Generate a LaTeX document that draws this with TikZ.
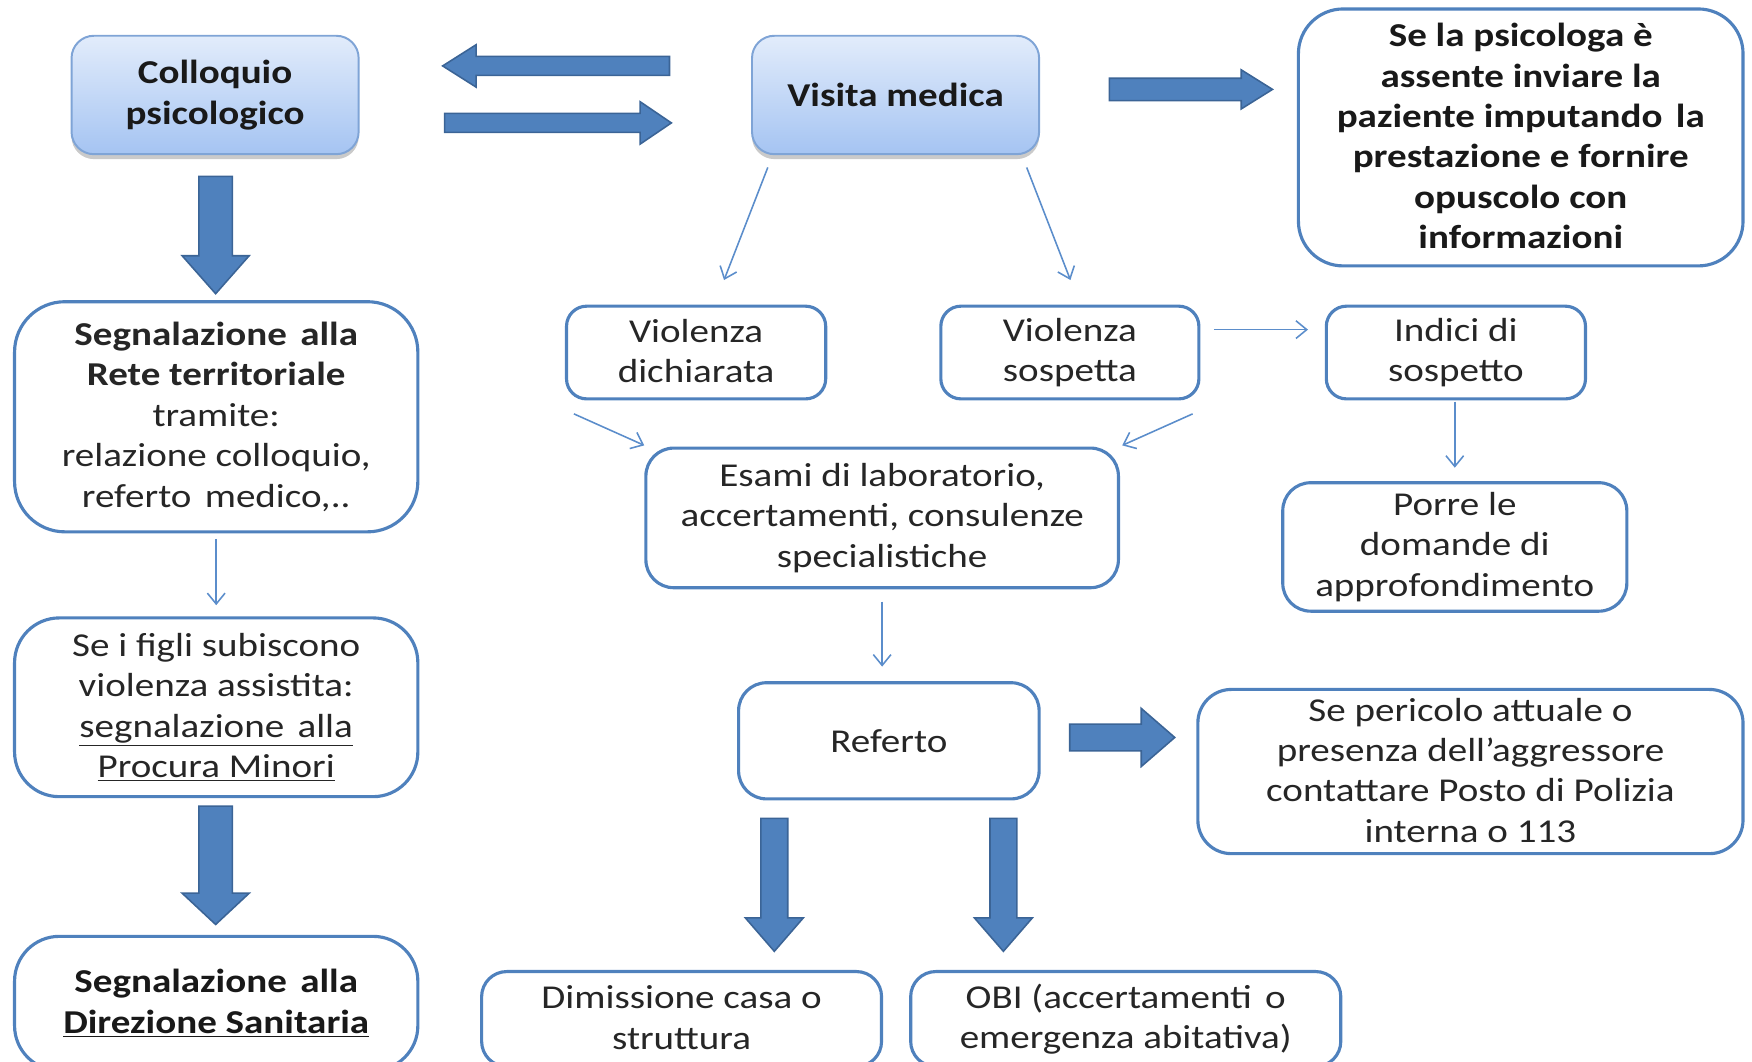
\documentclass[tikz,border=0pt]{standalone}
\usepackage{fontspec}
\setmainfont{Carlito}[FakeStretch=1.17]
\usetikzlibrary{calc,arrows.meta,shadows}
\definecolor{bblue}{HTML}{4F81BD}
\definecolor{bdark}{HTML}{3B6496}
\definecolor{lblue}{HTML}{5B8DCB}
\definecolor{gtop}{HTML}{E2ECFB}
\definecolor{gbot}{HTML}{A5C4F2}
\definecolor{gborder}{HTML}{7FA4D6}
\definecolor{txt}{HTML}{262626}
\newcommand\txtfont{\fontsize{17}{20.6}\selectfont}
\newcommand\mystrut{\rule[-1.4pt]{0pt}{20.6pt}}
\tikzset{
 struts/.style={execute at begin node=\mystrut, execute at end node=\mystrut},
 basebox/.style={draw=bblue, line width=1.6pt, fill=white, align=center, inner sep=0pt, text=txt, font=\txtfont},
 box/.style={basebox, struts},
 bfbox/.style={box, font=\txtfont\bfseries, text=black!90},
 gbase/.style={draw=gborder, line width=1pt, top color=gtop, bottom color=gbot, rounded corners=0.4cm,
   drop shadow={shadow xshift=0pt, shadow yshift=-2.5pt, opacity=0.35, fill=black!60},
   align=center, inner sep=0pt, font=\txtfont\bfseries, text=black!90, minimum width=5.14cm, minimum height=2.12cm},
 gbox/.style={gbase, struts},
 thinarrow/.style={draw=lblue, line width=0.8pt, -{Straight Barb[length=5.5pt,width=9pt]}},
 blockarrow/.style={fill=bblue, draw=bdark, line width=0.8pt, line join=miter},
}
\newcommand\blockarr[6]{%
 \begin{scope}[shift={(#1)}, rotate=#2]
 \draw[blockarrow] (0,-#4) -- ({#3-#6},-#4) -- ({#3-#6},-#5) -- (#3,0) -- ({#3-#6},#5) -- ({#3-#6},#4) -- (0,#4) -- cycle;
 \end{scope}}
\begin{document}
\begin{tikzpicture}[x=0.02cm,y=-0.02cm]
\useasboundingbox (0,0) rectangle (1568,950);
\clip (0,0) rectangle (1568,950);
% gradient boxes
\node[gbox] (coll) at (192.5,85) {Colloquio\\psicologico};
\node[gbase] (vis) at (801.5,85) {Visita medica};
% boxes
\node[bfbox, minimum width=7.96cm, minimum height=4.6cm, rounded corners=0.8cm] (psi) at (1361,123)
 {Se la psicologa è\\assente inviare la\\paziente imputando\hspace{.4em}la\\prestazione e fornire\\opuscolo con\\informazioni};
\node[box, minimum width=7.22cm, minimum height=4.12cm, rounded corners=0.9cm] (rete) at (193.5,373)
 {\textbf{Segnalazione\hspace{.4em}alla}\\\textbf{Rete territoriale}\\tramite:\\relazione colloquio,\\referto\hspace{.4em}medico,..};
\node[box, minimum width=7.22cm, minimum height=3.2cm, rounded corners=0.8cm] (figli) at (193.5,633)
 {Se i figli subiscono\\violenza assistita:\\\underline{segnalazione\hspace{.4em}alla}\\\underline{Procura Minori}};
\node[bfbox, minimum width=7.22cm, minimum height=2.4cm, rounded corners=0.8cm] (dir) at (193.5,898)
 {Segnalazione\hspace{.4em}alla\\\underline{Direzione Sanitaria}};
\node[box, minimum width=4.64cm, minimum height=1.66cm, rounded corners=0.36cm] (vd) at (623,315.5) {Violenza\\dichiarata};
\node[box, minimum width=4.62cm, minimum height=1.66cm, rounded corners=0.36cm] (vs) at (957.5,315.5) {Violenza\\sospetta};
\node[box, minimum width=4.64cm, minimum height=1.66cm, rounded corners=0.36cm] (ind) at (1303,315.5) {Indici di\\sospetto};
\node[box, minimum width=8.46cm, minimum height=2.5cm, rounded corners=0.5cm] (esa) at (789.5,463.5)
 {Esami di laboratorio,\\accertamenti, consulenze\\specialistiche};
\node[box, minimum width=6.16cm, minimum height=2.3cm, rounded corners=0.5cm] (por) at (1302,489.5)
 {Porre le\\domande di\\approfondimento};
\node[basebox, minimum width=5.38cm, minimum height=2.08cm, rounded corners=0.5cm] (ref) at (795.5,663) {Referto};
\node[box, minimum width=9.76cm, minimum height=2.94cm, rounded corners=0.6cm] (per) at (1316,690.5)
 {Se pericolo attuale o\\presenza dell’aggressore\\contattare Posto di Polizia\\interna o 113};
\node[box, minimum width=7.16cm, minimum height=1.7cm, rounded corners=0.45cm] (dim) at (610,912)
 {Dimissione casa o\\struttura};
\node[box, minimum width=7.7cm, minimum height=1.7cm, rounded corners=0.45cm] (obi) at (1007.5,912)
 {OBI (accertamenti\hspace{.4em}o\\emergenza abitativa)};
% thin arrows
\draw[thinarrow] ($(vis.south west)+(15,11)$) -- ($(vd.north)+(25,-22)$);
\draw[thinarrow] ($(vis.south east)+(-12,11)$) -- ($(vs.north)+(0.5,-22)$);
\draw[thinarrow] ($(vs.east)+(12,-20.5)$) -- ($(ind.west)+(-15,-20.5)$);
\draw[thinarrow] ($(vd.south west)+(8,12)$) -- ($(esa.north west)+(0,-1)$);
\draw[thinarrow] ($(vs.south east)+(-7,12)$) -- ($(esa.north east)+(2,-1)$);
\draw[thinarrow] ($(ind.south)+(-1,1)$) -- ($(por.north)+(0,-12)$);
\draw[thinarrow] ($(rete.south)+(0,5)$) -- ($(figli.north)+(0,-10)$);
\draw[thinarrow] ($(esa.south)+(0,11)$) -- ($(ref.north)+(-6,-13)$);
% block arrows
\coordinate (a1) at ($(vis.west)+(-73,-26)$);
\coordinate (a2) at ($(coll.east)+(76,25)$);
\coordinate (a3) at ($(vis.east)+(62,-5)$);
\coordinate (a4) at ($(coll.south)+(0.5,19)$);
\coordinate (a5) at ($(figli.south)+(-0.5,7)$);
\coordinate (a6) at ($(ref.east)+(26,-3)$);
\coordinate (a7) at ($(ref.south)+(-102.5,16)$);
\coordinate (a8) at ($(ref.south)+(102.5,16)$);
\blockarr{a1}{180}{203}{8.5}{19}{30}
\blockarr{a2}{0}{203}{8.5}{19}{28}
\blockarr{a3}{0}{146}{10}{17.5}{28}
\blockarr{a4}{-90}{105}{15}{30}{34}
\blockarr{a5}{-90}{106}{15}{30}{28}
\blockarr{a6}{0}{94}{12}{26}{30}
\blockarr{a7}{-90}{119}{12}{26}{30}
\blockarr{a8}{-90}{119}{12}{26}{30}
\end{tikzpicture}
\end{document}
